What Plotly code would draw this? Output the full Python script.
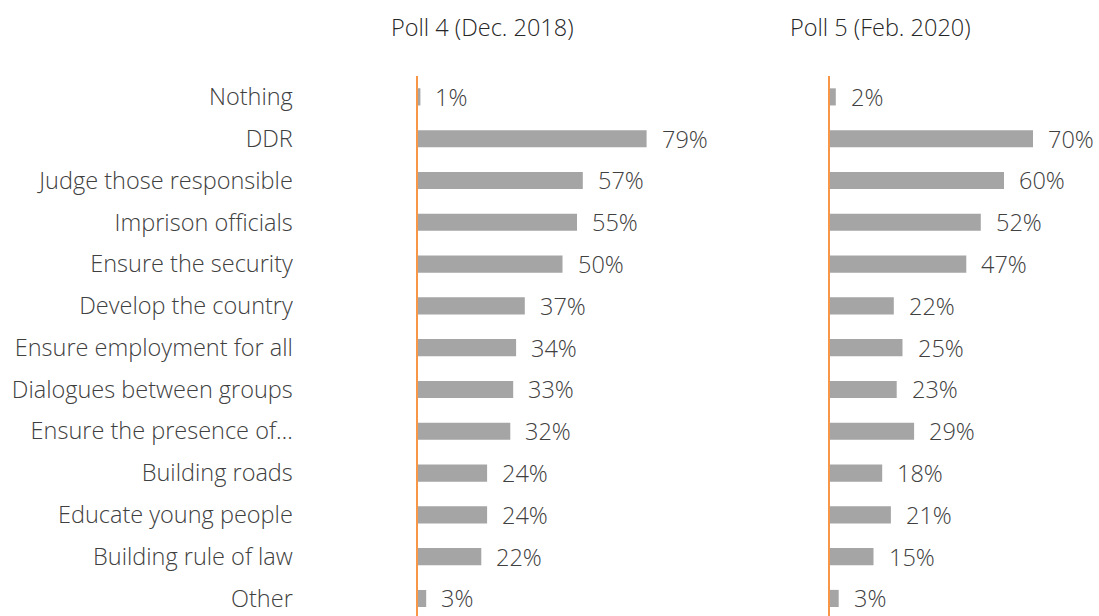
import plotly.graph_objects as go

categories = [
    "Nothing", "DDR", "Judge those responsible", "Imprison officials",
    "Ensure the security", "Develop the country", "Ensure employment for all",
    "Dialogues between groups", "Ensure the presence of…", "Building roads",
    "Educate young people", "Building rule of law", "Other",
]
poll4 = [1, 79, 57, 55, 50, 37, 34, 33, 32, 24, 24, 22, 3]
poll5 = [2, 70, 60, 52, 47, 22, 25, 23, 29, 18, 21, 15, 3]
panel_titles = ["Poll 4 (Dec. 2018)", "Poll 5 (Feb. 2020)"]

W, H = 1099, 616
TOP = 76
FONT = "Open Sans"
FSIZE = 23.5
TEXT_COLOR = "#404040"
BAR_COLOR = "#A5A5A5"
AXIS_COLOR = "#F79646"

fig = go.Figure()

panels = [("x", "y", poll4), ("x2", "y2", poll5)]
for xa, ya, vals in panels:
    fig.add_trace(go.Bar(
        y=categories, x=vals, orientation="h",
        xaxis=xa, yaxis=ya, width=0.41,
        marker=dict(color=BAR_COLOR, line=dict(width=0)),
        hoverinfo="skip", showlegend=False,
    ))
    for c, v in zip(categories, vals):
        fig.add_annotation(
            x=v, y=c, xref=xa, yref=ya, text=f"{v}%",
            showarrow=False, xanchor="left", xshift=13,
            font=dict(family=FONT, size=FSIZE, color=TEXT_COLOR, weight=300),
        )

# left panel starts at 417.5 px, right panel at 830 px
x_span = 90
px_per_unit = 2.9
dom_w = x_span * px_per_unit / W
d1 = 417.5 / W
d2 = 830 / W

yaxis_common = dict(
    categoryorder="array", categoryarray=categories,
    range=[12.42, -0.5], showgrid=False, zeroline=False,
    showline=True, linecolor=AXIS_COLOR, linewidth=2,
    ticks="", fixedrange=True,
)
xaxis_common = dict(
    range=[0, x_span], showgrid=False, zeroline=False, showline=False,
    showticklabels=False, ticks="", fixedrange=True,
)

fig.update_layout(
    width=W, height=H,
    margin=dict(l=0, r=0, t=TOP, b=0),
    paper_bgcolor="white", plot_bgcolor="white",
    xaxis=dict(domain=[d1, d1 + dom_w], **xaxis_common),
    xaxis2=dict(domain=[d2, d2 + dom_w], **xaxis_common),
    yaxis=dict(anchor="x", showticklabels=True, ticklabelstandoff=118,
               tickfont=dict(family=FONT, size=FSIZE, color=TEXT_COLOR, weight=300),
               **yaxis_common),
    yaxis2=dict(anchor="x2", showticklabels=False, matches="y", **yaxis_common),
)

plot_h = H - TOP
for t, cx in zip(panel_titles, [482, 880]):
    fig.add_annotation(
        x=cx / W, y=1 + (TOP - 27) / plot_h, xref="paper", yref="paper",
        yanchor="middle", text=t, showarrow=False, xanchor="center",
        font=dict(family=FONT, size=FSIZE, color="#262626", weight=300),
    )

fig.write_html("out.html")
